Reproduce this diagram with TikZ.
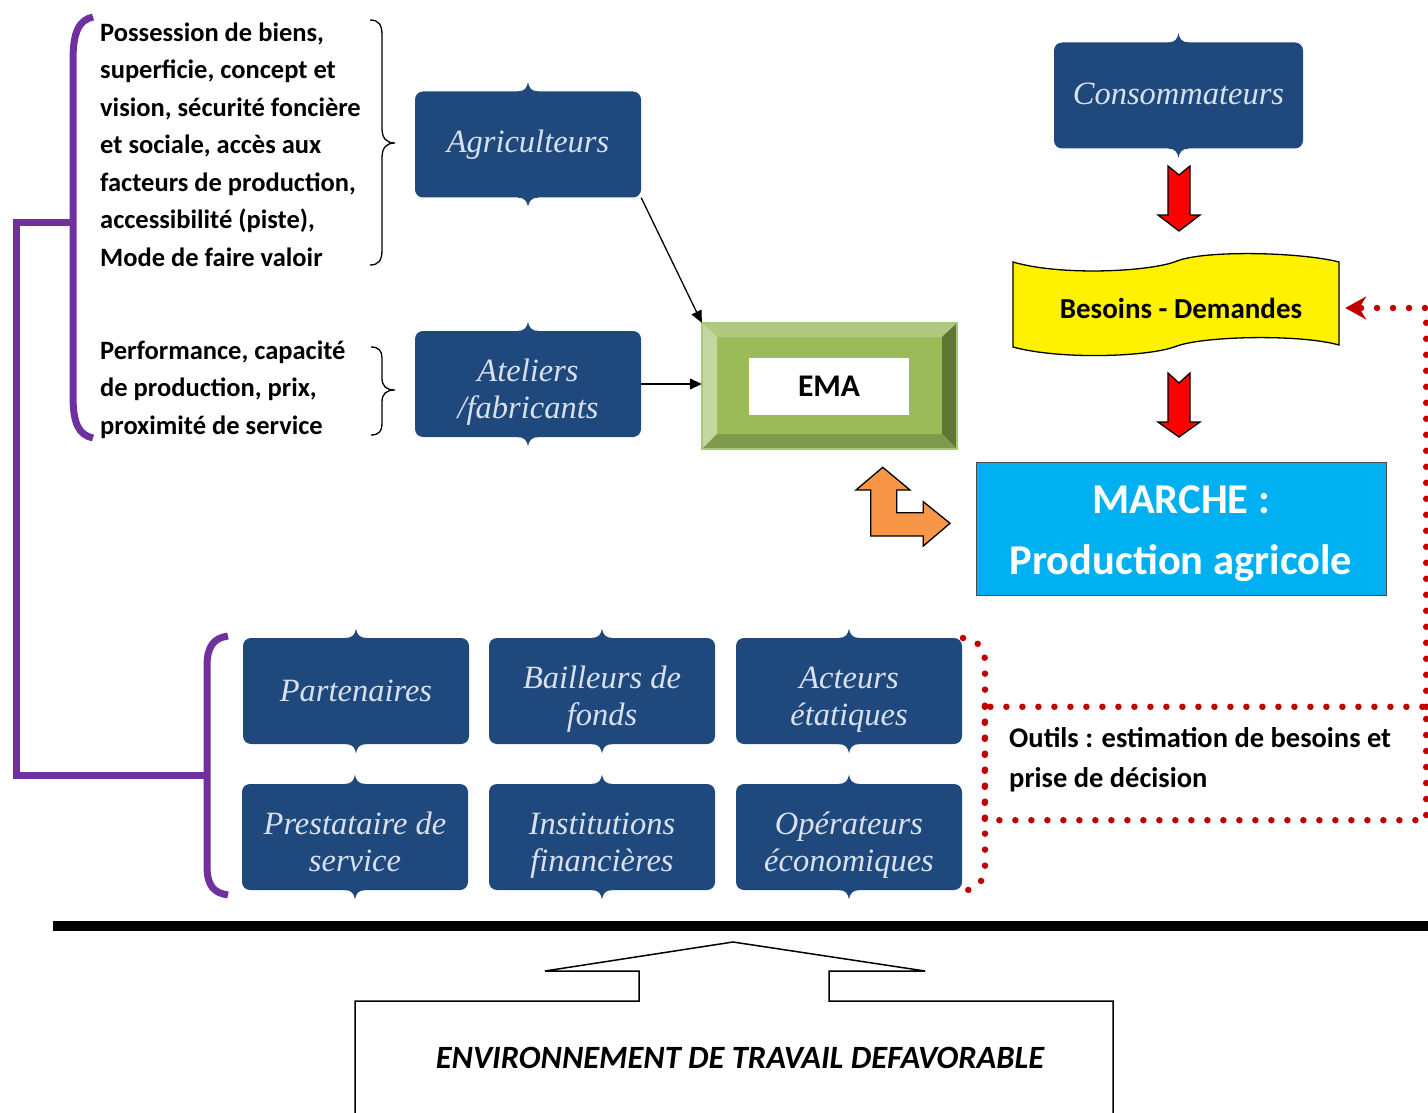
\documentclass[tikz,border=0pt]{standalone}
\usepackage{fontspec}
\setmainfont{Carlito}
\newfontfamily\boxfont{Liberation Serif}
\usetikzlibrary{arrows.meta,calc}

\definecolor{boxblue}{HTML}{1F497D}
\definecolor{boxtext}{HTML}{D9E1EE}
\definecolor{bracketpurple}{HTML}{7030A0}
\definecolor{dotred}{HTML}{C00000}
\definecolor{orangefill}{HTML}{F79646}
\definecolor{marketblue}{HTML}{00B0F0}
\definecolor{emamid}{HTML}{9BBB59}
\definecolor{ematop}{HTML}{AFCA7E}
\definecolor{emaleft}{HTML}{C4D7A0}
\definecolor{emaright}{HTML}{5F7534}
\definecolor{emabottom}{HTML}{7F9A4A}
\definecolor{emaline}{HTML}{A9C873}

% two centred lines, the first baseline raised by #1 above the box centre
\newcommand\twoline[3][3pt]{\raisebox{#1}[0pt][0pt]{\begin{tabular}[t]{@{}c@{}}#2\\#3\end{tabular}}}

\begin{document}
\begin{tikzpicture}[x=1pt,y=-1pt,
  actor/.style={rectangle, rounded corners=8pt, fill=boxblue, minimum width=226pt,
    minimum height=106pt, text=boxtext, inner sep=0pt, align=center,
    font=\boxfont\itshape\fontsize{32.5}{37}\selectfont},
  infotext/.style={anchor=west, align=left, inner sep=0pt,
    font=\bfseries\fontsize{26.5}{37.5}\selectfont},
  purpleline/.style={draw=bracketpurple, line width=7pt},
  thinbrace/.style={draw=black, line width=1.3pt},
  dotline/.style={draw=dotred, line width=6.5pt, dash pattern=on 0pt off 16pt, line cap=round},
  blockarrow/.style={draw=black, line width=1.3pt, line join=miter},
  linkarrow/.style={draw=black, line width=1.3pt, -{Triangle[length=12pt,width=11pt]}}
]
\useasboundingbox (0,0) rectangle (1428,1113);

% ---- actor boxes ----
\node[actor] (agr) at (528,144.5) {Agriculteurs};
\node[actor] (ate) at (528,384) {\twoline{Ateliers}{/fabricants}};
\node[actor, minimum width=249pt] (con) at (1178.5,95.5) {\raisebox{3pt}{Consommateurs}};
\node[actor] (par) at (356,691) {Partenaires};
\node[actor] (bai) at (602,691) {\twoline{Bailleurs de}{fonds}};
\node[actor] (act) at (849,691) {\twoline{Acteurs}{étatiques}};
\node[actor] (pre) at (355,837) {\twoline{Prestataire de}{service}};
\node[actor] (ins) at (602,837) {\twoline{Institutions}{financières}};
\node[actor] (ope) at (849,837) {\twoline{Opérateurs}{économiques}};

% small pointed tabs at the middle of the top and bottom edges
\foreach \n in {agr,ate,con,par,bai,act,pre,ins,ope}{
  \fill[boxblue] ([xshift=-10pt,yshift=-1pt]\n.north) -- ([xshift=-10pt]\n.north)
    .. controls ([xshift=-3pt]\n.north) and ([xshift=-1pt,yshift=4pt]\n.north) .. ([yshift=9pt]\n.north)
    .. controls ([xshift=1pt,yshift=4pt]\n.north) and ([xshift=3pt]\n.north) .. ([xshift=10pt]\n.north)
    -- ([xshift=10pt,yshift=-1pt]\n.north) -- cycle;
  \fill[boxblue] ([xshift=-10pt,yshift=1pt]\n.south) -- ([xshift=-10pt]\n.south)
    .. controls ([xshift=-3pt]\n.south) and ([xshift=-1pt,yshift=-4pt]\n.south) .. ([yshift=-9pt]\n.south)
    .. controls ([xshift=1pt,yshift=-4pt]\n.south) and ([xshift=3pt]\n.south) .. ([xshift=10pt]\n.south)
    -- ([xshift=10pt,yshift=1pt]\n.south) -- cycle;
}

% ---- descriptive texts with braces ----
\node[infotext] (txtagr) at (100,144.5) {Possession de biens,\\superficie, concept et\\vision, sécurité foncière\\et sociale, accès aux\\facteurs de production,\\accessibilité (piste),\\Mode de faire valoir};
\node[infotext] (txtate) at (100,389.5) {Performance, capacité\\de production, prix,\\proximité de service};

\draw[thinbrace] (370,20) .. controls (379,20) and (382,25) .. (382,35) -- (382,128)
  .. controls (382,138) and (386,143) .. (395,143) .. controls (386,143) and (382,148) .. (382,158)
  -- (382,250) .. controls (382,260) and (379,265) .. (370,265);
\draw[thinbrace] (371,347) .. controls (379,347) and (382,351) .. (382,358) -- (382,378)
  .. controls (382,386) and (386,390) .. (395,390) .. controls (386,390) and (382,394) .. (382,402)
  -- (382,424) .. controls (382,431) and (379,435) .. (371,435);

% ---- purple brackets ----
\draw[purpleline] (93,17) .. controls (79,20) and (73,32) .. (73,60) -- (73,396)
  .. controls (73,424) and (79,435) .. (93,438);
\draw[purpleline] (228,636) .. controls (214,638) and (207,646) .. (207,666) -- (207,866)
  .. controls (207,886) and (214,893) .. (228,895);
\coordinate (pTop) at (73,222);
\coordinate (pBot) at (207,775);
\draw[purpleline, line join=miter] (pTop) -- (16,222) -- (16,775) -- (pBot);

% ---- EMA bevelled block ----
\node[minimum width=255pt, minimum height=126pt, inner sep=0pt] (ema) at (829.5,386) {};
\fill[emamid] (702,323) rectangle (957,449);
\fill[ematop] (702,323) -- (957,323) -- (942,337) -- (717,337) -- cycle;
\fill[emaleft] (702,323) -- (717,337) -- (717,434) -- (702,449) -- cycle;
\fill[emaright] (957,323) -- (957,449) -- (942,434) -- (942,337) -- cycle;
\fill[emabottom] (702,449) -- (717,434) -- (942,434) -- (957,449) -- cycle;
\draw[emaline, line width=1.2pt] (702,323) rectangle (957,449);
\node[fill=white, minimum width=160pt, minimum height=57pt, inner sep=0pt,
  font=\bfseries\fontsize{31.5}{36}\selectfont] (emalabel) at (829,386.5) {EMA};

\draw[linkarrow] (agr.south east) -- (ema.north west);
\draw[linkarrow] (ate.east) -- (ate.east -| ema.west);

% ---- orange bent arrow ----
\draw[blockarrow, fill=orangefill] (882.7,467.3) -- (910,490) -- (896.7,490) -- (896.7,512.7)
  -- (923.3,512.7) -- (923.3,501.7) -- (950,523.3) -- (923.3,546) -- (923.3,536)
  -- (870.7,536) -- (870.7,490) -- (856,490) -- cycle;

% ---- market ----
\node[draw=black!70, line width=1pt, fill=marketblue, minimum width=410pt, minimum height=133pt,
  text=white, align=center, font=\bfseries\fontsize{42.5}{61}\selectfont] (market) at (1181,528.5)
  {\twoline[15pt]{MARCHE :}{Production agricole}};

% ---- needs / demand wave ----
\draw[draw=black, line width=1.3pt, fill=yellow]
  (1013,262) .. controls (1060,276) and (1150,272) .. (1177,261)
  .. controls (1205,250) and (1300,252) .. (1339,262) -- (1339,345)
  .. controls (1300,334) and (1205,336) .. (1177,346)
  .. controls (1150,357) and (1060,360) .. (1013,347) -- cycle;
\node[font=\bfseries\fontsize{29}{34}\selectfont, minimum width=326pt, minimum height=84pt,
  inner sep=0pt] (bes) at (1181,308) {Besoins - Demandes};

% ---- red block arrows ----
\draw[blockarrow, fill=red] (1168,166) -- (1179,175) -- (1190,166) -- (1190,215) -- (1200,215)
  -- (1179,231) -- (1158,215) -- (1168,215) -- cycle;
\draw[blockarrow, fill=red] (1168,373) -- (1179,383) -- (1190,373) -- (1190,422) -- (1200,422)
  -- (1179,437) -- (1158,422) -- (1168,422) -- cycle;

% ---- tools box with dotted outline ----
\node[minimum width=441pt, minimum height=113pt, inner sep=0pt] (outils) at (1205.5,763.5) {};
\draw[dotline] (outils.north west) rectangle (outils.south east);
\node[infotext, font=\bfseries\fontsize{28.5}{40}\selectfont] (outilstxt) at (1009,760)
  {Outils : estimation de besoins et\\prise de décision};
\draw[dotline] (963,638) .. controls (978,640) and (985,648) .. (985,662) -- (985,866)
  .. controls (985,880) and (978,889) .. (963,891);
\draw[dotline, -{Stealth[length=21pt,width=23pt,inset=7pt]}] (outils.north east) |- ([xshift=1pt]bes.east);

% ---- ground line and environment arrow ----
\draw[line width=10pt] (53,926) -- (1428,926);
\draw[line width=1.5pt, line join=miter] (355,1113) -- (355,1001) -- (639,1001) -- (639,971)
  -- (545,971) -- (733,942) -- (925,971) -- (829,971) -- (829,1001) -- (1113,1001) -- (1113,1113);
\node[font=\bfseries\itshape\fontsize{32.5}{38}\selectfont] (env) at (740,1058)
  {ENVIRONNEMENT DE TRAVAIL DEFAVORABLE};

\end{tikzpicture}
\end{document}
